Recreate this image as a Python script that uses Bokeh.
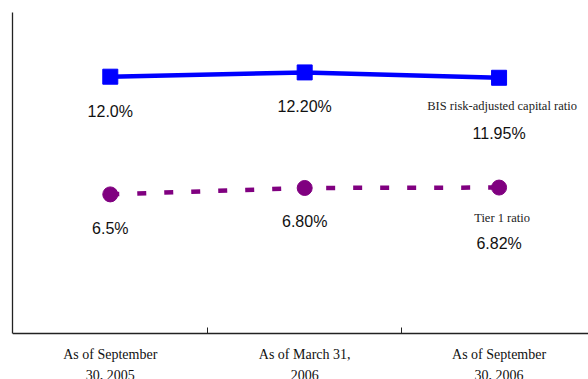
from bokeh.plotting import figure
from bokeh.models import ColumnDataSource, Range1d, FixedTicker
from bokeh.core.properties import value
from bokeh.embed import file_html
from bokeh.resources import INLINE

# ---- data ----
categories = ["As of September\n30, 2005", "As of March 31,\n2006", "As of September\n30, 2006"]
bis_ratio = [12.0, 12.20, 11.95]
tier1_ratio = [6.5, 6.80, 6.82]
bis_labels = ["12.0%", "12.20%", "11.95%"]
tier1_labels = ["6.5%", "6.80%", "6.82%"]
series_names = ["BIS risk-adjusted capital ratio", "Tier 1 ratio"]

# ---- styles / offsets ----
BLUE = "#0000FF"
PURPLE = "#800080"
AXIS = "#222222"
bis_label_offsets = [35, 34, 56]
tier1_label_offsets = [34, 34, 56]

xs = list(range(len(categories)))
n = len(categories)

p = figure(width=588, height=379, output_backend="svg", toolbar_location=None,
           x_range=Range1d(-0.503, 2.46), y_range=Range1d(-2.15, 15),
           min_border_left=12, min_border_top=12, min_border_right=0,
           min_border_bottom=0)
p.outline_line_color = None
p.xgrid.visible = False
p.ygrid.visible = False
p.background_fill_color = "white"
p.border_fill_color = "white"

# x axis drawn at value 0 inside the frame, with separator ticks between categories
p.xaxis.fixed_location = 0
p.xaxis.ticker = FixedTicker(ticks=[], minor_ticks=[i + 0.5 for i in range(n - 1)])
p.xaxis.major_tick_line_color = None
p.xaxis.minor_tick_in = 6
p.xaxis.minor_tick_out = 0
p.xaxis.minor_tick_line_color = AXIS
p.xaxis.axis_line_color = AXIS
p.xaxis.axis_line_width = 1.3

p.yaxis.ticker = FixedTicker(ticks=[], minor_ticks=[])
p.yaxis.bounds = (0, 15)
p.yaxis.major_tick_line_color = None
p.yaxis.minor_tick_line_color = None
p.yaxis.axis_line_color = AXIS
p.yaxis.axis_line_width = 1.3

src = ColumnDataSource(dict(
    x=xs, bis=bis_ratio, tier=tier1_ratio,
    bis_lab=bis_labels, tier_lab=tier1_labels,
    bis_off=bis_label_offsets, tier_off=tier1_label_offsets,
))

p.line("x", "bis", source=src, line_color=BLUE, line_width=4.5)
p.scatter("x", "bis", source=src, marker="square", size=15,
          fill_color=BLUE, line_color=BLUE)

p.line("x", "tier", source=src, line_color=PURPLE, line_width=4.5,
       line_dash="9 18")
p.scatter("x", "tier", source=src, marker="circle", size=15,
          fill_color=PURPLE, line_color=PURPLE)

p.text("x", "bis", text="bis_lab", source=src, y_offset="bis_off",
       text_align="center", text_baseline="middle",
       text_font=value("Liberation Sans"), text_font_size="16px",
       text_color="#111111")
p.text("x", "tier", text="tier_lab", source=src, y_offset="tier_off",
       text_align="center", text_baseline="middle",
       text_font=value("Liberation Sans"), text_font_size="16px",
       text_color="#111111")

# series names near the last point
name_src = ColumnDataSource(dict(
    x=[xs[-1], xs[-1]], y=[bis_ratio[-1], tier1_ratio[-1]],
    name=series_names, off=[28, 30],
))
p.text("x", "y", text="name", source=name_src, y_offset="off", x_offset=3,
       text_align="center", text_baseline="middle",
       text_font=value("Liberation Serif"), text_font_size="12.5px",
       text_color="#222222")

# category labels below the axis line
cat_src = ColumnDataSource(dict(x=xs, y=[0] * n, cat=categories))
p.text("x", "y", text="cat", source=cat_src, y_offset=14,
       text_align="center", text_baseline="top",
       text_font=value("Liberation Serif"), text_font_size="14px",
       text_line_height=1.4, text_color="#111111")

open("out.html", "w").write(file_html(p, INLINE))
